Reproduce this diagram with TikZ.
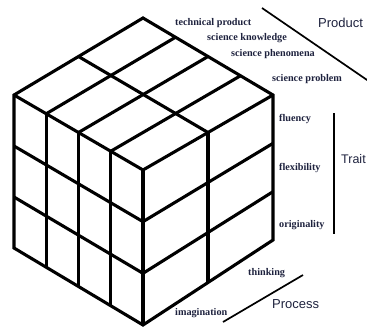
\documentclass[tikz,border=0pt]{standalone}
\usepackage{fontspec}
\setmainfont{Liberation Serif}
\newfontfamily\labsans{Liberation Sans}
\usetikzlibrary{calc}
\definecolor{labcol}{RGB}{30,34,62}
\tikzset{
  cubeline/.style={line width=3.1pt, black},
  axisline/.style={line width=1.7pt, black},
  smalllab/.style={font=\fontsize{10.2}{12}\selectfont\bfseries, text=labcol, anchor=west, inner sep=0pt},
  biglab/.style={font=\labsans\fontsize{13}{15}\selectfont, text=labcol, anchor=west, inner sep=0pt}
}
\begin{document}
\begin{tikzpicture}[x=1pt,y=-1pt]
\useasboundingbox (0,0) rectangle (367,327);
\clip (0,0) rectangle (367,327);
% cube corners
\coordinate (T) at (143,18);
\coordinate (L) at (14,95);
\coordinate (R) at (273,95);
\coordinate (F) at (143,170);
\coordinate (Fb) at (143,325);
\coordinate (Lb) at (14,248);
\coordinate (Rb) at (273,240);
% top face grid
\foreach \k in {0.25,0.5,0.75}{
  \draw[cubeline] ($(T)!\k!(R)$) -- ($(L)!\k!(F)$);
}
\draw[cubeline] ($(T)!0.5!(L)$) -- ($(R)!0.5!(F)$);
% left face grid
\foreach \k in {0.25,0.5,0.75}{
  \draw[cubeline] ($(L)!\k!(F)$) -- ($(Lb)!\k!(Fb)$);
}
\foreach \j in {0.3333,0.6667}{
  \draw[cubeline] ($(L)!\j!(Lb)$) -- ($(F)!\j!(Fb)$);
}
% right face grid
\draw[cubeline] ($(F)!0.5!(R)$) -- ($(Fb)!0.5!(Rb)$);
\foreach \j in {0.3333,0.6667}{
  \draw[cubeline] ($(F)!\j!(Fb)$) -- ($(R)!\j!(Rb)$);
}
% outline
\draw[cubeline] (T) -- (L) -- (Lb) -- (Fb) -- (Rb) -- (R) -- cycle;
\draw[cubeline] (L) -- (F) -- (R);
\draw[cubeline] (F) -- (Fb);
% labels
\node[smalllab] (tp) at (175,23) {technical product};
\node[smalllab] (sk) at (207,38) {science knowledge};
\node[smalllab] (sph) at (231,54) {science phenomena};
\node[smalllab] (spr) at (272,79) {science problem};
\node[smalllab] (flu) at (279,119) {fluency};
\node[smalllab] (fle) at (279,168) {flexibility};
\node[smalllab] (ori) at (279,225) {originality};
\node[smalllab] (thi) at (248,273) {thinking};
\node[smalllab] (ima) at (175,313) {imagination};
\node[biglab] (prod) at (318,23) {Product};
\node[biglab, font=\labsans\fontsize{12.5}{15}\selectfont] (trait) at (341,159) {Trait};
\node[biglab] (proc) at (272,304) {Process};
% axis lines
\coordinate (pa) at (262,8);
\coordinate (pb) at (370,82);
\draw[axisline] (pa) -- (pb);
\coordinate (ta) at (334,113);
\coordinate (tb) at (334,234);
\draw[axisline] (ta) -- (tb);
\coordinate (ca) at (223,322);
\coordinate (cb) at (303,275);
\draw[axisline] (ca) -- (cb);
\end{tikzpicture}
\end{document}
